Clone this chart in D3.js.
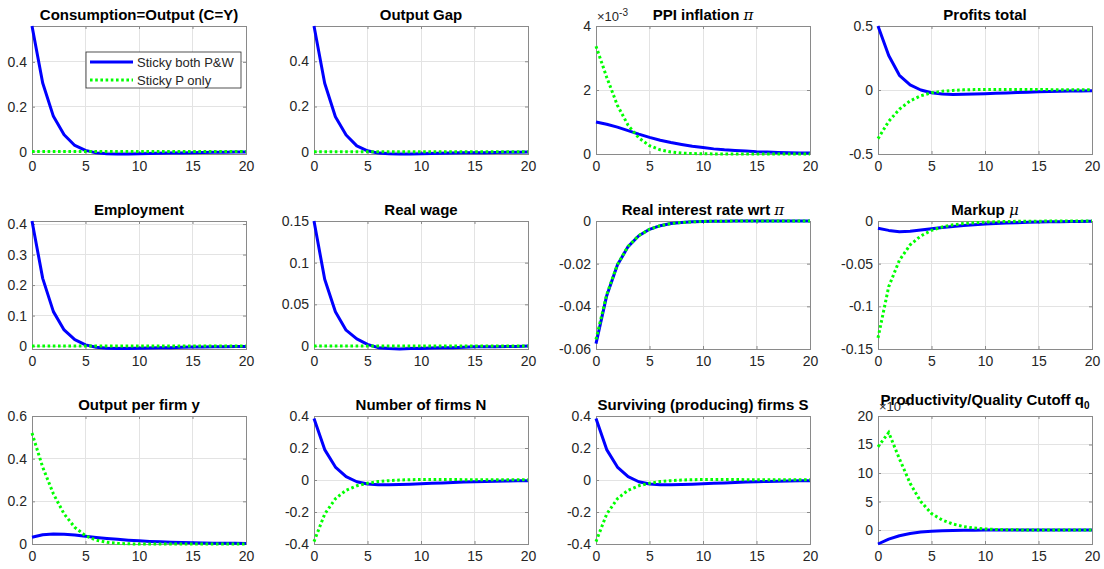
<!DOCTYPE html>
<html>
<head>
<meta charset="utf-8">
<script src="https://cdn.jsdelivr.net/npm/d3@7/dist/d3.min.js"></script>
<style>
html,body{margin:0;padding:0;background:#fff;}
svg{display:block;}
text{font-family:"Liberation Sans",Arial,Helvetica,sans-serif;}
</style>
</head>
<body>
<svg id="chart" width="1104" height="569"></svg>
<script>
// ---------- DATA ----------
const periods = [0,1,2,3,4,5,6,7,8,9,10,11,12,13,14,15,16,17,18,19,20];
const seriesNames = ["Sticky both P&W", "Sticky P only"];
const zeros21 = [0,0,0,0,0,0,0,0,0,0,0,0,0,0,0,0,0,0,0,0,0];

const consBoth = [0.56,0.306,0.157,0.075,0.027,0.005,-0.006,-0.01,-0.011,-0.011,-0.01,-0.009,-0.008,-0.007,-0.006,-0.005,-0.004,-0.003,-0.003,-0.002,-0.002];
const consP = zeros21;
const gapBoth = [0.556,0.303,0.155,0.074,0.026,0.004,-0.006,-0.009,-0.01,-0.01,-0.009,-0.008,-0.007,-0.006,-0.005,-0.004,-0.004,-0.003,-0.002,-0.002,-0.001];
const gapP = zeros21;
const ppiBoth = [1.0e-3,0.93e-3,0.84e-3,0.73e-3,0.62e-3,0.52e-3,0.43e-3,0.36e-3,0.30e-3,0.24e-3,0.20e-3,0.16e-3,0.13e-3,0.11e-3,0.09e-3,0.07e-3,0.06e-3,0.05e-3,0.04e-3,0.03e-3,0.03e-3];
const ppiP = [3.37e-3,2.40e-3,1.52e-3,0.90e-3,0.50e-3,0.26e-3,0.13e-3,0.065e-3,0.03e-3,0.015e-3,0.007e-3,0.003e-3,0.001e-3,0,0,0,0,0,0,0,0];
const profBoth = [0.5,0.27,0.115,0.04,0.0,-0.022,-0.032,-0.035,-0.034,-0.032,-0.029,-0.026,-0.023,-0.02,-0.017,-0.014,-0.012,-0.01,-0.008,-0.007,-0.006];
const profP = [-0.38,-0.245,-0.15,-0.085,-0.045,-0.022,-0.01,-0.003,0.001,0.003,0.004,0.004,0.004,0.004,0.003,0.003,0.003,0.002,0.002,0.002,0.002];
const empBoth = [0.41,0.222,0.113,0.053,0.021,0.004,-0.004,-0.007,-0.008,-0.008,-0.007,-0.006,-0.005,-0.005,-0.004,-0.003,-0.003,-0.002,-0.002,-0.001,-0.001];
const empP = zeros21;
const wageBoth = [0.15,0.080,0.041,0.019,0.0085,0.002,-0.002,-0.003,-0.0035,-0.003,-0.003,-0.0025,-0.002,-0.002,-0.0015,-0.001,-0.001,-0.001,-0.0005,-0.0005,0];
const wageP = zeros21;
const rateBoth = [-0.0575,-0.035,-0.0206,-0.012,-0.0069,-0.0039,-0.0022,-0.0012,-0.0007,-0.0004,-0.0002,-0.0001,-0.0001,0,0,0,0,0,0,0,0];
const rateP = [-0.0555,-0.0345,-0.0204,-0.0119,-0.0068,-0.0039,-0.0022,-0.0012,-0.0007,-0.0004,-0.0002,-0.0001,-0.0001,0,0,0,0,0,0,0,0];
const markBoth = [-0.0085,-0.011,-0.0125,-0.012,-0.0105,-0.009,-0.0076,-0.0064,-0.0053,-0.0044,-0.0036,-0.003,-0.0024,-0.002,-0.0016,-0.0013,-0.001,-0.0008,-0.0006,-0.0005,-0.0004];
const markP = [-0.137,-0.077,-0.046,-0.028,-0.0175,-0.011,-0.007,-0.0045,-0.003,-0.002,-0.0013,-0.0009,-0.0006,-0.0004,-0.0003,-0.0002,-0.0001,-0.0001,0,0,0];
const yfirmBoth = [0.032,0.043,0.047,0.046,0.042,0.036,0.031,0.026,0.022,0.018,0.015,0.012,0.01,0.008,0.007,0.006,0.005,0.004,0.003,0.003,0.002];
const yfirmP = [0.52,0.36,0.235,0.141,0.078,0.039,0.018,0.008,0.003,0.001,0,0,0,0,0,0,0,0,0,0,0];
const nBoth = [0.385,0.19,0.081,0.021,-0.011,-0.025,-0.03,-0.03,-0.028,-0.026,-0.023,-0.021,-0.018,-0.016,-0.013,-0.011,-0.009,-0.008,-0.006,-0.005,-0.004];
const nP = [-0.385,-0.213,-0.117,-0.064,-0.036,-0.02,-0.01,-0.004,0.0,0.002,0.003,0.003,0.003,0.003,0.002,0.002,0.002,0.002,0.001,0.001,0.001];
const sBoth = [0.385,0.19,0.081,0.021,-0.011,-0.025,-0.03,-0.03,-0.028,-0.026,-0.023,-0.021,-0.018,-0.016,-0.013,-0.011,-0.009,-0.008,-0.006,-0.005,-0.004];
const sP = [-0.385,-0.213,-0.117,-0.064,-0.036,-0.02,-0.01,-0.004,0.0,0.002,0.003,0.003,0.003,0.003,0.002,0.002,0.002,0.002,0.001,0.001,0.001];
const q0Both = [-2.45e-4,-1.6e-4,-1.0e-4,-0.6e-4,-0.35e-4,-0.2e-4,-0.12e-4,-0.07e-4,-0.04e-4,-0.02e-4,-0.01e-4,0,0,0,0,0,0,0,0,0,0];
const q0P = [14.6e-4,17.1e-4,12.5e-4,8.2e-4,5.0e-4,2.9e-4,1.75e-4,1.05e-4,0.6e-4,0.35e-4,0.2e-4,0.1e-4,0.05e-4,0.03e-4,0.02e-4,0.01e-4,0,0,0,0,0];

const titles = ["Consumption=Output (C=Y)","Output Gap","PPI inflation |π","Profits total",
                "Employment","Real wage","Real interest rate wrt |π","Markup |μ",
                "Output per firm y","Number of firms N","Surviving (producing) firms S","Productivity/Quality Cutoff q_0"];
const yDomains = [[-0.011,0.56],[-0.01,0.556],[0,0.004],[-0.5,0.5],
                  [-0.0095,0.41],[-0.0036,0.15],[-0.06,0],[-0.15,0],
                  [0,0.6],[-0.4,0.4],[-0.4,0.4],[-2.45e-4,20e-4]];
const yTickVals = [[0,0.2,0.4],[0,0.2,0.4],[0,0.002,0.004],[-0.5,0,0.5],
                   [0,0.1,0.2,0.3,0.4],[0,0.05,0.1,0.15],[-0.06,-0.04,-0.02,0],[-0.15,-0.1,-0.05,0],
                   [0,0.2,0.4,0.6],[-0.4,-0.2,0,0.2,0.4],[-0.4,-0.2,0,0.2,0.4],[0,5e-4,10e-4,15e-4,20e-4]];
const yExponents = [0,0,-3,0, 0,0,0,0, 0,0,0,-4];
const xTickVals = [0,5,10,15,20];
const bothSeries = [consBoth,gapBoth,ppiBoth,profBoth,empBoth,wageBoth,rateBoth,markBoth,yfirmBoth,nBoth,sBoth,q0Both];
const pOnlySeries = [consP,gapP,ppiP,profP,empP,wageP,rateP,markP,yfirmP,nP,sP,q0P];

// ---------- LAYOUT ----------
const colLeft = [32, 314, 596, 878];
const rowTop = [26, 221, 416];
const AW = 214, AH = 128;
const BLUE = "#0000ff", GREEN = "#00ff00";
const TXT = "#262626", BOX = "#8a8a8a", GRID = "#e3e3e3";

const svg = d3.select("#chart");
svg.append("rect").attr("width",1104).attr("height",569).attr("fill","#fff");

function fmt(v, e){
  const s = e ? v/Math.pow(10,e) : v;
  return String(+s.toFixed(6));
}

titles.forEach((title, k) => {
  const c = k % 4, r = Math.floor(k / 4);
  const L = colLeft[c], T = rowTop[r];
  const x = d3.scaleLinear().domain([0,20]).range([L, L+AW]);
  const y = d3.scaleLinear().domain(yDomains[k]).range([T+AH, T]);
  const g = svg.append("g");

  g.append("rect").attr("x",L).attr("y",T).attr("width",AW).attr("height",AH).attr("fill","#fff");

  // grid
  xTickVals.forEach(v => {
    g.append("line").attr("x1",x(v)).attr("x2",x(v)).attr("y1",T).attr("y2",T+AH)
      .attr("stroke",GRID).attr("stroke-width",1).attr("shape-rendering","crispEdges");
  });
  yTickVals[k].forEach(v => {
    g.append("line").attr("x1",L).attr("x2",L+AW).attr("y1",y(v)).attr("y2",y(v))
      .attr("stroke",GRID).attr("stroke-width",1).attr("shape-rendering","crispEdges");
  });

  // axes via d3 axis generators (inward ticks)
  const xAxis = d3.axisBottom(x).tickValues(xTickVals).tickSize(-3).tickPadding(7).tickFormat(d=>String(d));
  const xg = g.append("g").attr("transform",`translate(0,${T+AH})`).call(xAxis);
  const yAxis = d3.axisLeft(y).tickValues(yTickVals[k]).tickSize(-3).tickPadding(5).tickFormat(d=>fmt(d,yExponents[k]));
  const yg = g.append("g").attr("transform",`translate(${L},0)`).call(yAxis);
  const xTop = d3.axisTop(x).tickValues(xTickVals).tickSize(-3).tickFormat("");
  const xtg = g.append("g").attr("transform",`translate(0,${T})`).call(xTop);
  const yRight = d3.axisRight(y).tickValues(yTickVals[k]).tickSize(-3).tickFormat("");
  const yrg = g.append("g").attr("transform",`translate(${L+AW},0)`).call(yRight);
  [xg,yg,xtg,yrg].forEach(a => {
    a.select(".domain").remove();
    a.selectAll(".tick line").attr("stroke",BOX);
    a.selectAll("text").attr("fill",TXT).style("font-size","14px")
      .style("font-family","'Liberation Sans',Arial,sans-serif");
  });

  g.append("rect").attr("x",L).attr("y",T).attr("width",AW).attr("height",AH)
    .attr("fill","none").attr("stroke",BOX).attr("stroke-width",1).attr("shape-rendering","crispEdges");

  // exponent label
  if (yExponents[k]) {
    const ex = g.append("text").attr("x",L+1).attr("y",T-5).attr("fill",TXT).style("font-size","13px");
    ex.append("tspan").text("\u00d710");
    ex.append("tspan").attr("dy",-5).style("font-size","10px").text(String(yExponents[k]));
  }

  // lines
  const line = d3.line().x((d,i)=>x(periods[i])).y(d=>y(d));
  g.append("path").datum(bothSeries[k]).attr("d",line).attr("fill","none")
    .attr("stroke",BLUE).attr("stroke-width",3).attr("stroke-linejoin","round");
  g.append("path").datum(pOnlySeries[k]).attr("d",line).attr("fill","none")
    .attr("stroke",GREEN).attr("stroke-width",3).attr("stroke-dasharray","2.6,2.6");

  // title
  const hasSub = title.indexOf("_") >= 0;
  const tt = g.append("text").attr("x",L+AW/2).attr("y",T-6.5 - (hasSub?5:0))
    .attr("text-anchor","middle").attr("fill","#000")
    .style("font-size","15px").style("font-weight","bold");
  if (title.indexOf("|") >= 0) {
    const parts = title.split("|");
    tt.append("tspan").text(parts[0]);
    tt.append("tspan").style("font-style","italic").style("font-weight","normal").style("font-family","'DejaVu Serif',serif").text(parts[1]);
  } else if (hasSub) {
    const parts = title.split("_");
    tt.append("tspan").text(parts[0]);
    tt.append("tspan").attr("dy",4).style("font-size","10px").text(parts[1]);
  } else {
    tt.text(title);
  }
});

// legend (first panel)
const lg = svg.append("g");
lg.append("rect").attr("x",86).attr("y",52).attr("width",155).attr("height",36)
  .attr("fill","#fff").attr("stroke",TXT).attr("stroke-width",0.8);
const legY = [62, 80];
const legStyles = [{c:BLUE,dash:null},{c:GREEN,dash:"2.6,2.6"}];
seriesNames.forEach((n,i) => {
  const ln = lg.append("line").attr("x1",90).attr("x2",133).attr("y1",legY[i]).attr("y2",legY[i])
    .attr("stroke",legStyles[i].c).attr("stroke-width",3);
  if (legStyles[i].dash) ln.attr("stroke-dasharray",legStyles[i].dash);
  lg.append("text").attr("x",137).attr("y",legY[i]+4.5).attr("fill",TXT).style("font-size","13px").text(n);
});
</script>
</body>
</html>
